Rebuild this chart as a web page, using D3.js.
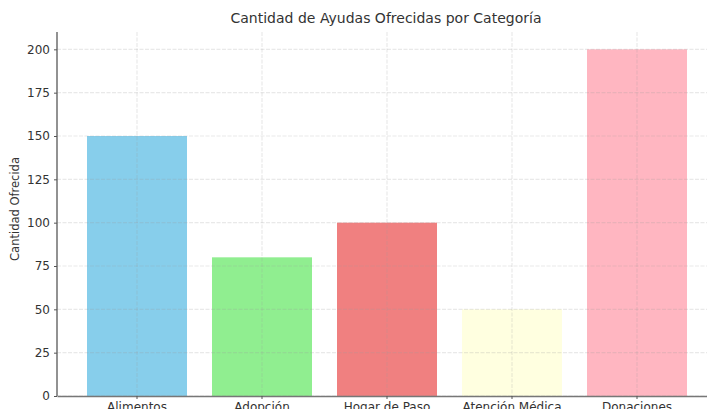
<!DOCTYPE html>
<html>
<head>
<meta charset="utf-8">
<script src="https://cdn.jsdelivr.net/npm/d3@7"></script>
<style>
  body { margin: 0; background: #fff; }
  text { font-family: "DejaVu Sans", sans-serif; fill: #333; }
</style>
</head>
<body>
<div id="chart"></div>
<script>
// data
const categories = ["Alimentos", "Adopción", "Hogar de Paso", "Atención Médica", "Donaciones"];
const values = [150, 80, 100, 50, 200];
const barColors = ["#87CEEB", "#90EE90", "#F08080", "#FFFFE0", "#FFB6C1"];
const yTicks = [0, 25, 50, 75, 100, 125, 150, 175, 200];

const W = 707, H = 409;
const margin = { top: 32, right: -10, bottom: 13, left: 57 };
const width = W - margin.left - margin.right;
const height = H - margin.top - margin.bottom;

const svg = d3.select("#chart")
    .append("svg")
    .attr("width", W)
    .attr("height", H)
    .append("g")
    .attr("transform", `translate(${margin.left},${margin.top})`);

const x = d3.scaleBand()
    .domain(categories)
    .range([0, width])
    .paddingInner(0.2)
    .paddingOuter(0.24);

const y = d3.scaleLinear()
    .domain([0, 210])
    .range([height, 0]);

// bars
svg.selectAll("rect.bar")
    .data(categories)
    .join("rect")
    .attr("class", "bar")
    .attr("x", d => x(d))
    .attr("width", x.bandwidth())
    .attr("y", (d, i) => y(values[i]))
    .attr("height", (d, i) => height - y(values[i]))
    .attr("fill", (d, i) => barColors[i]);

// grid (drawn over bars)
svg.append("g")
    .selectAll("line")
    .data(yTicks)
    .join("line")
    .attr("x1", 0).attr("x2", width)
    .attr("y1", d => y(d)).attr("y2", d => y(d))
    .attr("stroke", "#999")
    .attr("stroke-opacity", 0.22)
    .attr("stroke-dasharray", "4,1.5")
    .attr("stroke-width", 1.2);

svg.append("g")
    .selectAll("line")
    .data(categories)
    .join("line")
    .attr("x1", d => x(d) + x.bandwidth() / 2).attr("x2", d => x(d) + x.bandwidth() / 2)
    .attr("y1", 0).attr("y2", height)
    .attr("stroke", "#999")
    .attr("stroke-opacity", 0.22)
    .attr("stroke-dasharray", "4,1.5")
    .attr("stroke-width", 1.2);

// axes
const yAxis = svg.append("g")
    .call(d3.axisLeft(y).tickValues(yTicks).tickSize(3).tickPadding(4));
const xAxis = svg.append("g")
    .attr("transform", `translate(0,${height})`)
    .call(d3.axisBottom(x).tickSize(3).tickPadding(3).tickSizeOuter(0));

[yAxis, xAxis].forEach(a => {
    a.select(".domain").attr("stroke", "#777").attr("stroke-width", 1.6);
    a.selectAll(".tick line").attr("stroke", "#555");
    a.selectAll(".tick text").style("font-size", "12px").style("fill", "#333");
});
yAxis.select(".domain").attr("d", `M0,0V${height}`);

// labels
svg.append("text")
    .attr("x", 329)
    .attr("y", -9)
    .attr("text-anchor", "middle")
    .style("font-size", "14px")
    .text("Cantidad de Ayudas Ofrecidas por Categoría");

svg.append("text")
    .attr("transform", "rotate(-90)")
    .attr("x", -177)
    .attr("y", -38)
    .attr("text-anchor", "middle")
    .style("font-size", "11.5px")
    .text("Cantidad Ofrecida");
</script>
</body>
</html>
